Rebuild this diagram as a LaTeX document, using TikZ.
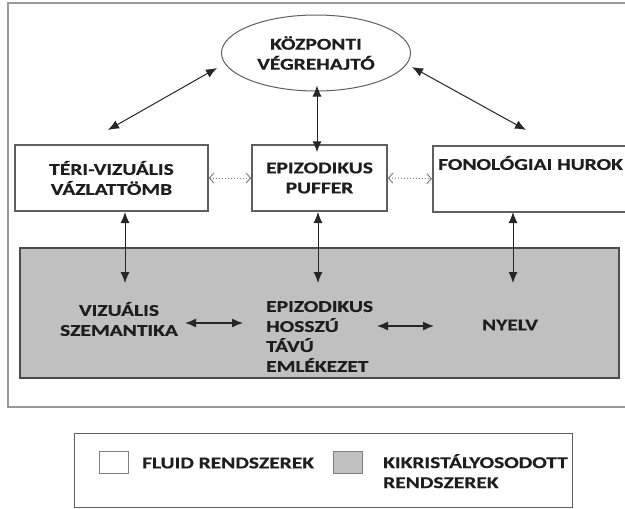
\documentclass[tikz,border=0pt]{standalone}
\usepackage{fontspec}
\setmainfont{Carlito}[FakeStretch=1.3, BoldFeatures={FakeBold=0.5}]
\usetikzlibrary{arrows.meta,shapes.geometric}
\definecolor{ltmgray}{RGB}{192,192,192}
\definecolor{txt}{RGB}{30,30,30}
\definecolor{bord}{RGB}{95,95,95}
\begin{document}
\begin{tikzpicture}[x=1pt,y=-1pt,
  every node/.style={font=\fontsize{16.5}{20}\selectfont\bfseries, text=txt, inner sep=0pt},
  box/.style={draw=bord, line width=1.5pt, fill=white, minimum height=66pt, align=center},
  dbl/.style={{Latex[length=11pt,width=9pt]}-{Latex[length=11pt,width=9pt]}, line width=1pt, draw=black!85},
  dots/.style={{Straight Barb[length=4.5pt,width=10pt]}-{Straight Barb[length=4.5pt,width=10pt]}, dotted, draw=gray, line width=1pt},
  legsq/.style={draw=gray, line width=1.3pt, minimum width=29pt, minimum height=22pt, anchor=north west}
]
\useasboundingbox (0,0) rectangle (625,509);
% outer frame (cut at the right edge)
\draw[draw=gray!80, line width=1.2pt] (630,3) -- (8,3) -- (8,407) -- (630,407);

% central executive
\node[ellipse, draw=bord, line width=1pt, minimum width=189pt, minimum height=76pt, align=center] (ell) at (316,53) {KÖZPONTI\\VÉGREHAJTÓ};

% fluid boxes
\node[box, minimum width=193pt] (tv) at (111.5,178) {TÉRI-VIZUÁLIS\\VÁZLATTÖMB};
\node[box, minimum width=135pt] (ep) at (319.5,178) {EPIZODIKUS\\PUFFER};
\node[box, minimum width=200pt, anchor=north west] (fon) at (432,145) {};
\node[anchor=west] (fontxt) at (438,163) {FONOLÓGIAI HUROK};

% crystallised systems
\node[draw=black!70, line width=1.8pt, fill=ltmgray, minimum width=599pt, minimum height=130pt, anchor=north west] (ltm) at (19,247) {};
\node[align=center] (vs) at (119,319) {VIZUÁLIS\\SZEMANTIKA};
\node[align=left, anchor=west] (ehtm) at (266,336.5) {EPIZODIKUS\\HOSSZÚ\\TÁVÚ\\EMLÉKEZET};
\node (ny) at (510,325) {NYELV};

% connectors
\coordinate (d1a) at (217,68); \coordinate (d1b) at (108,130);
\coordinate (d2a) at (412,67); \coordinate (d2b) at (526,130);
\draw[dbl] (d1a) -- (d1b);
\draw[dbl] (d2a) -- (d2b);
\draw[dbl] ([xshift=1pt,yshift=6pt]ell.south) -- ([xshift=-2.5pt,yshift=-8pt]ep.north);
\draw[dots] (tv.east) -- (ep.west);
\draw[dots] (ep.east) -- (fon.west);

\coordinate (u1) at (125,212); \coordinate (l1) at (125,283);
\coordinate (u2) at (318,212); \coordinate (l2) at (318,283);
\coordinate (u3) at (513,212); \coordinate (l3) at (513,283);
\draw[dbl] (u1) -- (l1);
\draw[dbl] (u2) -- (l2);
\draw[dbl] (u3) -- (l3);

\coordinate (h1a) at (185,323); \coordinate (h1b) at (243,323);
\coordinate (h2a) at (377,326); \coordinate (h2b) at (434,326);
\draw[dbl, line width=1.4pt] (h1a) -- (h1b);
\draw[dbl, line width=1.4pt] (h2a) -- (h2b);

% legend
\node[draw=bord, line width=1pt, minimum width=498pt, minimum height=74pt, anchor=north west] (leg) at (74,433) {};
\node[legsq, fill=white] (sqw) at (99,451) {};
\node[legsq, fill=ltmgray] (sqg) at (333,451) {};
\node[anchor=west] (lfl) at (142,463) {FLUID RENDSZEREK};
\node[anchor=north west, align=left] (lkr) at (383,454) {KIKRISTÁLYOSODOTT\\RENDSZEREK};
\end{tikzpicture}
\end{document}
